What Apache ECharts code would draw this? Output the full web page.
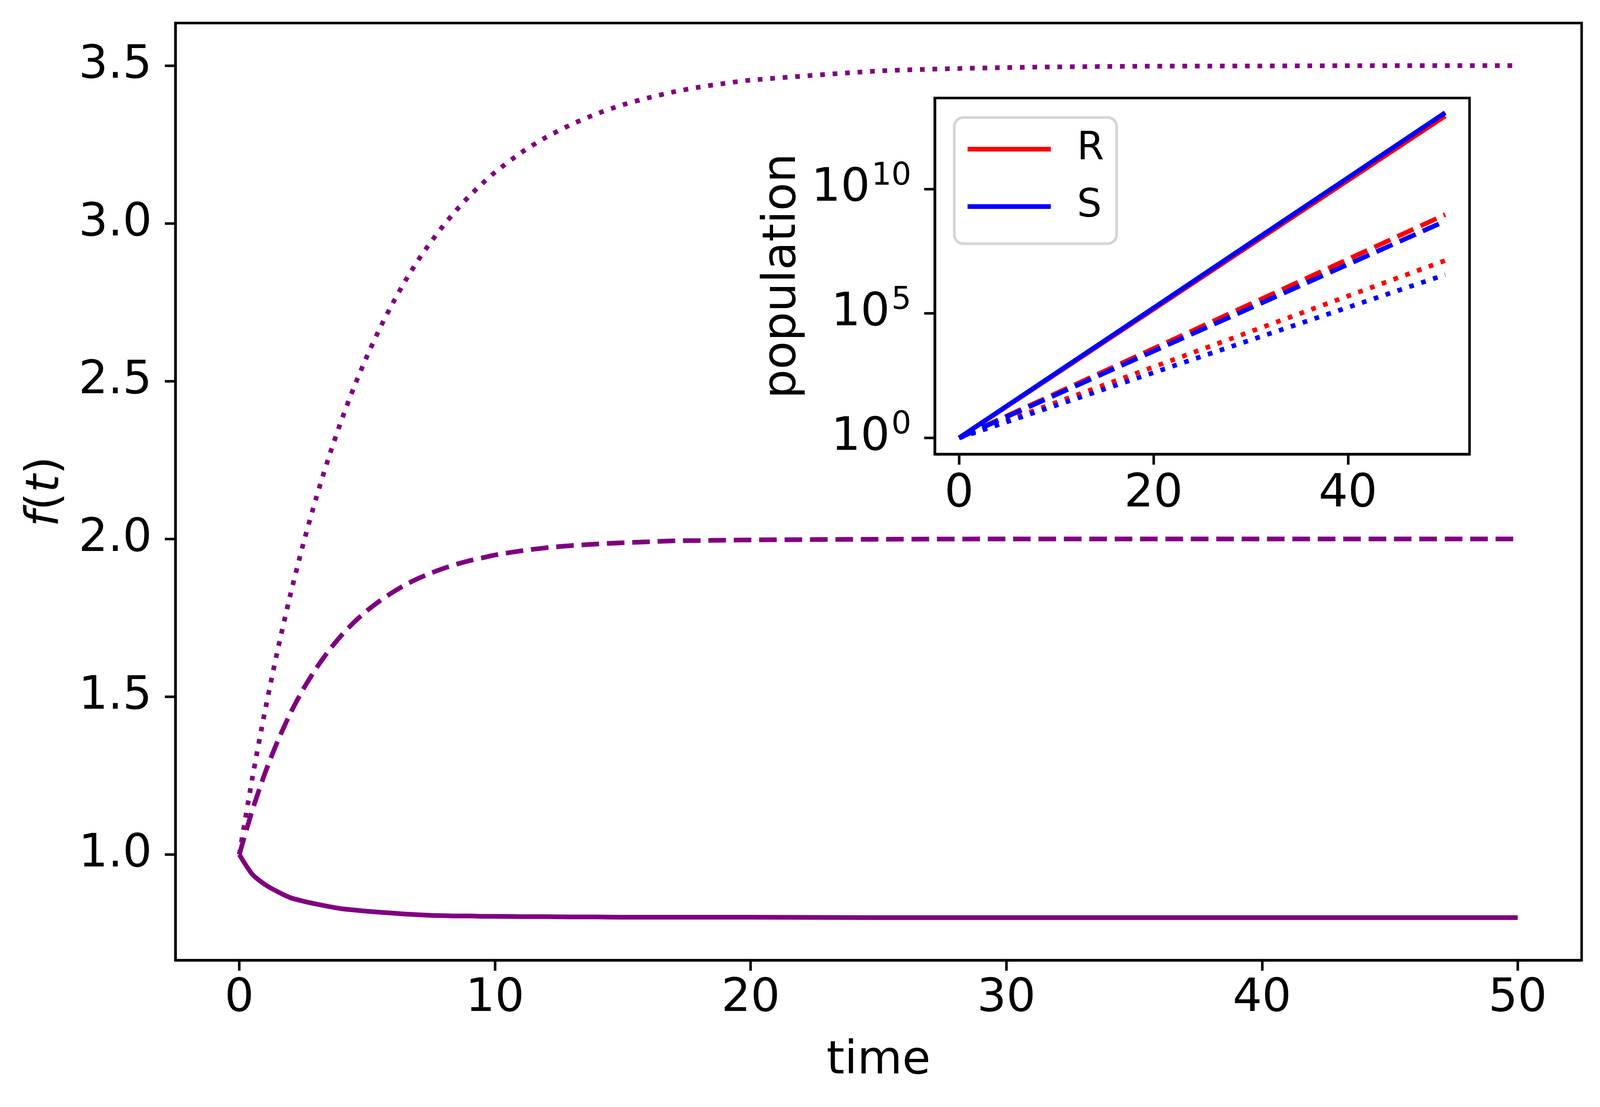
<!DOCTYPE html>
<html lang="en">
<head>
<meta charset="UTF-8">
<title>f(t) with population inset</title>
<script src="https://cdn.jsdelivr.net/npm/echarts@6.0.0/dist/echarts.min.js"></script>
<style>
    html, body { margin: 0; padding: 0; background: #fff; }
    #main { width: 4109px; height: 2835px; }
</style>
</head>
<body>
<div id="main"></div>
<script>
    // main panel: f(t) for three runs
    var times = [0, 0.5, 1, 1.5, 2, 2.5, 3, 3.5, 4, 4.5, 5, 5.5, 6, 6.5, 7, 7.5, 8, 8.5, 9, 9.5, 10,
        11, 12, 13, 14, 15, 16, 17, 18, 19, 20, 25, 30, 35, 40, 45, 50];
    var fSolid = [1.000, 0.938, 0.905, 0.882, 0.863, 0.852, 0.843, 0.835, 0.828, 0.824, 0.820, 0.817, 0.814, 0.811, 0.809, 0.807, 0.806, 0.805, 0.805, 0.804, 0.804,
        0.803, 0.803, 0.802, 0.802, 0.801, 0.801, 0.801, 0.801, 0.801, 0.801, 0.800, 0.800, 0.800, 0.800, 0.800, 0.800];
    var fDashed = [1.000, 1.138, 1.257, 1.359, 1.448, 1.524, 1.589, 1.646, 1.695, 1.737, 1.773, 1.804, 1.831, 1.855, 1.875, 1.892, 1.907, 1.920, 1.931, 1.940, 1.949,
        1.962, 1.972, 1.979, 1.984, 1.988, 1.991, 1.994, 1.995, 1.996, 1.997, 1.999, 2.000, 2.000, 2.000, 2.000, 2.000];
    var fDotted = [1.000, 1.238, 1.453, 1.648, 1.824, 1.984, 2.128, 2.259, 2.377, 2.484, 2.580, 2.668, 2.747, 2.819, 2.884, 2.942, 2.995, 3.043, 3.087, 3.126, 3.162,
        3.223, 3.273, 3.314, 3.348, 3.376, 3.398, 3.417, 3.432, 3.444, 3.454, 3.483, 3.494, 3.498, 3.499, 3.500, 3.500];

    // inset: population (log scale)
    var insetTimes = [0, 10, 20, 30, 40, 50];
    var rSolid = [1, 385, 1.48e5, 5.73e7, 2.21e10, 8.51e12];
    var rDashed = [1, 62, 3.87e3, 2.41e5, 1.50e7, 9.3e8];
    var rDotted = [1, 26.6, 708, 1.88e4, 5.0e5, 1.33e7];
    var sSolid = [1, 408, 1.66e5, 6.86e7, 2.81e10, 1.15e13];
    var sDashed = [1, 55, 3.05e3, 1.68e5, 9.3e6, 5.1e8];
    var sDotted = [1, 20.5, 419, 8.57e3, 1.75e5, 3.59e6];

    var xTicks = [0, 10, 20, 30, 40, 50];
    var yTicks = [1.0, 1.5, 2.0, 2.5, 3.0, 3.5];
    var insetXTicks = [0, 20, 40];
    var insetYTicks = [1, 1e5, 1e10];

    var FONT = 'DejaVu Sans';
    var PURPLE = '#800080';
    var DASH = [45, 20], DOT = [12, 20];

    function pairs(xs, ys) {
        return xs.map(function (x, i) { return [x, ys[i]]; });
    }

    function curve(name, xs, ys, color, type, axis) {
        return {
            name: name,
            type: 'line',
            xAxisIndex: axis, yAxisIndex: axis,
            data: pairs(xs, ys),
            showSymbol: false, symbol: 'none',
            smooth: axis === 0 ? 0.25 : false,
            color: color,
            itemStyle: { color: color },
            lineStyle: { color: color, width: 12, type: type, cap: 'butt' },
            emphasis: { disabled: true },
            silent: true
        };
    }

    var axisCommon = {
        axisLine: { show: true, onZero: false, lineStyle: { color: '#000', width: 6.5 } },
        axisTick: { show: true, inside: false, length: 27, lineStyle: { color: '#000', width: 6.5 } },
        splitLine: { show: false }
    };

    var myChart = echarts.init(document.getElementById('main'), null, { renderer: 'canvas' });
    var option = {
        animation: false,
        backgroundColor: '#fff',
        textStyle: { fontFamily: FONT },
        grid: [
            { left: 449, right: 60, top: 59, bottom: 376, show: true, borderColor: '#000', borderWidth: 6.5, backgroundColor: 'transparent' },
            { left: 2393, right: 347, top: 251, bottom: 1672, show: true, borderColor: '#000', borderWidth: 6.5, backgroundColor: '#fff' }
        ],
        legend: {
            data: ['R', 'S'],
            orient: 'vertical',
            left: 2443, top: 301,
            icon: 'rect',
            itemWidth: 213, itemHeight: 12, itemGap: 27,
            padding: [21, 32, 35, 34],
            backgroundColor: 'rgba(255,255,255,0.8)',
            borderColor: '#d5d5d5', borderWidth: 7, borderRadius: 23,
            selectedMode: false,
            textStyle: { fontSize: 100, fontFamily: FONT, color: '#000', lineHeight: 120, padding: [0, 0, 0, 62] }
        },
        xAxis: [
            Object.assign({}, axisCommon, {
                type: 'value', gridIndex: 0, min: -2.5, max: 52.5,
                name: 'time', nameLocation: 'middle', nameGap: 200,
                nameTextStyle: { fontSize: 118, fontFamily: FONT, color: '#000' },
                axisTick: Object.assign({}, axisCommon.axisTick, { customValues: xTicks }),
                axisLabel: { customValues: xTicks, fontSize: 118, fontFamily: FONT, color: '#000', margin: 40 }
            }),
            Object.assign({}, axisCommon, {
                type: 'value', gridIndex: 1, min: -2.5, max: 52.5,
                axisTick: Object.assign({}, axisCommon.axisTick, { customValues: insetXTicks }),
                axisLabel: { customValues: insetXTicks, fontSize: 118, fontFamily: FONT, color: '#000', margin: 44 }
            })
        ],
        yAxis: [
            Object.assign({}, axisCommon, {
                type: 'value', gridIndex: 0, min: 0.665, max: 3.635,
                name: '{i|f}({i|t})', nameLocation: 'middle', nameGap: 272,
                nameTextStyle: {
                    fontSize: 118, fontFamily: FONT, color: '#000',
                    rich: { i: { fontSize: 118, fontFamily: FONT, fontStyle: 'italic', color: '#000' } }
                },
                axisTick: Object.assign({}, axisCommon.axisTick, { customValues: yTicks }),
                axisLabel: {
                    customValues: yTicks, fontSize: 118, fontFamily: FONT, color: '#000', margin: 60,
                    formatter: function (v) { return v.toFixed(1); }
                }
            }),
            Object.assign({}, axisCommon, {
                type: 'log', logBase: 10, gridIndex: 1,
                min: Math.pow(10, -0.65), max: Math.pow(10, 13.65),
                name: 'population', nameLocation: 'middle', nameGap: 330,
                nameTextStyle: { fontSize: 118, fontFamily: FONT, color: '#000' },
                axisTick: Object.assign({}, axisCommon.axisTick, { customValues: insetYTicks }),
                axisLabel: {
                    customValues: insetYTicks, margin: 60, color: '#000',
                    formatter: function (v) {
                        return '{b|10}{s|' + Math.round(Math.log10(v)) + '}';
                    },
                    rich: {
                        b: { fontSize: 118, fontFamily: FONT, color: '#000', lineHeight: 144, verticalAlign: 'middle' },
                        s: { fontSize: 80, fontFamily: FONT, color: '#000', lineHeight: 84, verticalAlign: 'top', padding: [0, 0, 0, 4] }
                    }
                }
            })
        ],
        series: [
            curve('solid', times, fSolid, PURPLE, 'solid', 0),
            curve('dashed', times, fDashed, PURPLE, DASH, 0),
            curve('dotted', times, fDotted, PURPLE, DOT, 0),
            curve('R', insetTimes, rSolid, '#ff0000', 'solid', 1),
            curve('R', insetTimes, rDashed, '#ff0000', DASH, 1),
            curve('R', insetTimes, rDotted, '#ff0000', DOT, 1),
            curve('S', insetTimes, sSolid, '#0000ff', 'solid', 1),
            curve('S', insetTimes, sDashed, '#0000ff', DASH, 1),
            curve('S', insetTimes, sDotted, '#0000ff', DOT, 1)
        ]
    };
    option && myChart.setOption(option);
</script>
</body>
</html>
